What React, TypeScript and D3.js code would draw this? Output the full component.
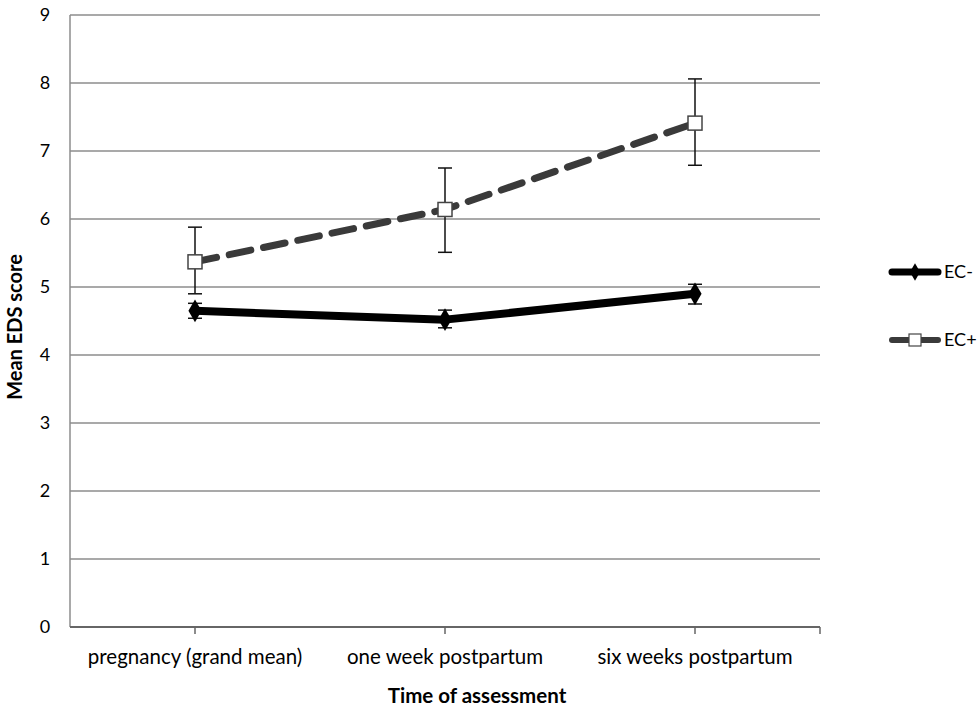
import * as d3 from 'd3';
import { useEffect, useRef } from 'react';

const categories = ['pregnancy (grand mean)', 'one week postpartum', 'six weeks postpartum'];
const yTicks = [0, 1, 2, 3, 4, 5, 6, 7, 8, 9];

const ecMinus = [4.65, 4.52, 4.9];
const ecMinusLow = [4.54, 4.4, 4.75];
const ecMinusHigh = [4.76, 4.66, 5.04];

const ecPlus = [5.37, 6.14, 7.41];
const ecPlusLow = [4.9, 5.51, 6.79];
const ecPlusHigh = [5.88, 6.75, 8.06];

const seriesNames = ['EC-', 'EC+'];

export default function App() {
    const ref = useRef<SVGSVGElement>(null);

    useEffect(() => {
        const svg = d3.select(ref.current);
        svg.selectAll('*').remove();
        const font = 'Lato, "Open Sans", sans-serif';

        const margin = { top: 15, left: 70, right: 160, bottom: 83 };
        const width = 980 - margin.left - margin.right;
        const height = 710 - margin.top - margin.bottom;

        const x = d3.scaleBand().domain(categories).range([0, width]);
        const y = d3.scaleLinear().domain([0, 9]).range([height, 0]);
        const cx = (i: number) => (x(categories[i]) as number) + x.bandwidth() / 2;

        const g = svg.append('g').attr('transform', `translate(${margin.left},${margin.top})`);

        // gridlines
        g.append('g').selectAll('line').data(yTicks.filter(t => t > 0)).enter().append('line')
            .attr('x1', 0).attr('x2', width)
            .attr('y1', d => y(d)).attr('y2', d => y(d))
            .attr('stroke', '#8c8c8c').attr('stroke-width', 1.5);

        // y axis
        g.append('line').attr('x1', 0).attr('x2', 0).attr('y1', 0).attr('y2', height)
            .attr('stroke', '#8c8c8c').attr('stroke-width', 1.5);
        g.append('g').selectAll('text').data(yTicks).enter().append('text')
            .attr('x', -25).attr('y', d => y(d)).attr('dy', '0.35em')
            .attr('text-anchor', 'middle').attr('font-family', font).attr('font-size', 18)
            .text(d => d);

        // x axis
        g.append('line').attr('x1', 0).attr('x2', width).attr('y1', height).attr('y2', height)
            .attr('stroke', '#666').attr('stroke-width', 2);
        const xt = [...categories.map((_, i) => cx(i)), width];
        g.append('g').selectAll('line').data(xt).enter().append('line')
            .attr('x1', d => d).attr('x2', d => d).attr('y1', height).attr('y2', height + 7)
            .attr('stroke', '#666').attr('stroke-width', 1.5);
        g.append('g').selectAll('text').data(categories).enter().append('text')
            .attr('x', (_, i) => cx(i)).attr('y', height + 37)
            .attr('text-anchor', 'middle').attr('font-family', font).attr('font-size', 20.5)
            .text(d => d);

        // titles
        svg.append('text').attr('transform', `translate(22,${327}) rotate(-90)`)
            .attr('text-anchor', 'middle').attr('font-family', font).attr('font-size', 20)
            .attr('font-weight', 'bold').text('Mean EDS score');
        svg.append('text').attr('x', 477).attr('y', 703)
            .attr('text-anchor', 'middle').attr('font-family', font).attr('font-size', 20.5)
            .attr('font-weight', 'bold').text('Time of assessment');

        const line = d3.line<number>().x((_, i) => cx(i)).y(d => y(d));

        // error bars
        const errBars = (lo: number[], hi: number[]) => {
            const eg = g.append('g');
            lo.forEach((l, i) => {
                const xx = cx(i);
                eg.append('line').attr('x1', xx).attr('x2', xx).attr('y1', y(l)).attr('y2', y(hi[i]))
                    .attr('stroke', '#111').attr('stroke-width', 1.5);
                [l, hi[i]].forEach(v => {
                    eg.append('line').attr('x1', xx - 7).attr('x2', xx + 7).attr('y1', y(v)).attr('y2', y(v))
                        .attr('stroke', '#111').attr('stroke-width', 1.5);
                });
            });
        };

        // EC- series
        g.append('path').datum(ecMinus).attr('d', line).attr('fill', 'none')
            .attr('stroke', '#000').attr('stroke-width', 8).attr('stroke-linejoin', 'round');
        errBars(ecMinusLow, ecMinusHigh);
        g.append('g').selectAll('path').data(ecMinus).enter().append('path')
            .attr('d', d3.symbol(d3.symbolDiamond, 150)())
            .attr('transform', (d, i) => `translate(${cx(i)},${y(d)})`)
            .attr('fill', '#000');

        // EC+ series
        g.append('path').datum(ecPlus).attr('d', line).attr('fill', 'none')
            .attr('stroke', '#3a3a3a').attr('stroke-width', 7).attr('stroke-dasharray', '22,13')
            .attr('stroke-linecap', 'round');
        errBars(ecPlusLow, ecPlusHigh);
        g.append('g').selectAll('rect').data(ecPlus).enter().append('rect')
            .attr('x', (_, i) => cx(i) - 7).attr('y', d => y(d) - 7)
            .attr('width', 14).attr('height', 14)
            .attr('fill', '#fff').attr('stroke', '#444').attr('stroke-width', 1.5);

        // legend
        const lg = svg.append('g');
        const ly = [272, 340];
        seriesNames.forEach((name, i) => {
            const yy = ly[i];
            lg.append('line').attr('x1', 892).attr('x2', 938).attr('y1', yy).attr('y2', yy)
                .attr('stroke', i === 0 ? '#000' : '#3a3a3a').attr('stroke-width', i === 0 ? 7 : 6)
                .attr('stroke-linecap', 'round');
            if (i === 0) {
                lg.append('path').attr('d', d3.symbol(d3.symbolDiamond, 90)())
                    .attr('transform', `translate(915,${yy})`).attr('fill', '#000');
            } else {
                lg.append('rect').attr('x', 909).attr('y', yy - 6).attr('width', 12).attr('height', 12)
                    .attr('fill', '#fff').attr('stroke', '#444').attr('stroke-width', 1.2);
            }
            lg.append('text').attr('x', 944).attr('y', yy).attr('dy', '0.35em')
                .attr('font-family', font).attr('font-size', 18).text(name);
        });
    }, []);

    return (
        <svg ref={ref} width={980} height={710}
            style={{ position: 'absolute', left: 0, top: 0, display: 'block', background: '#fff' }} />
    );
}
